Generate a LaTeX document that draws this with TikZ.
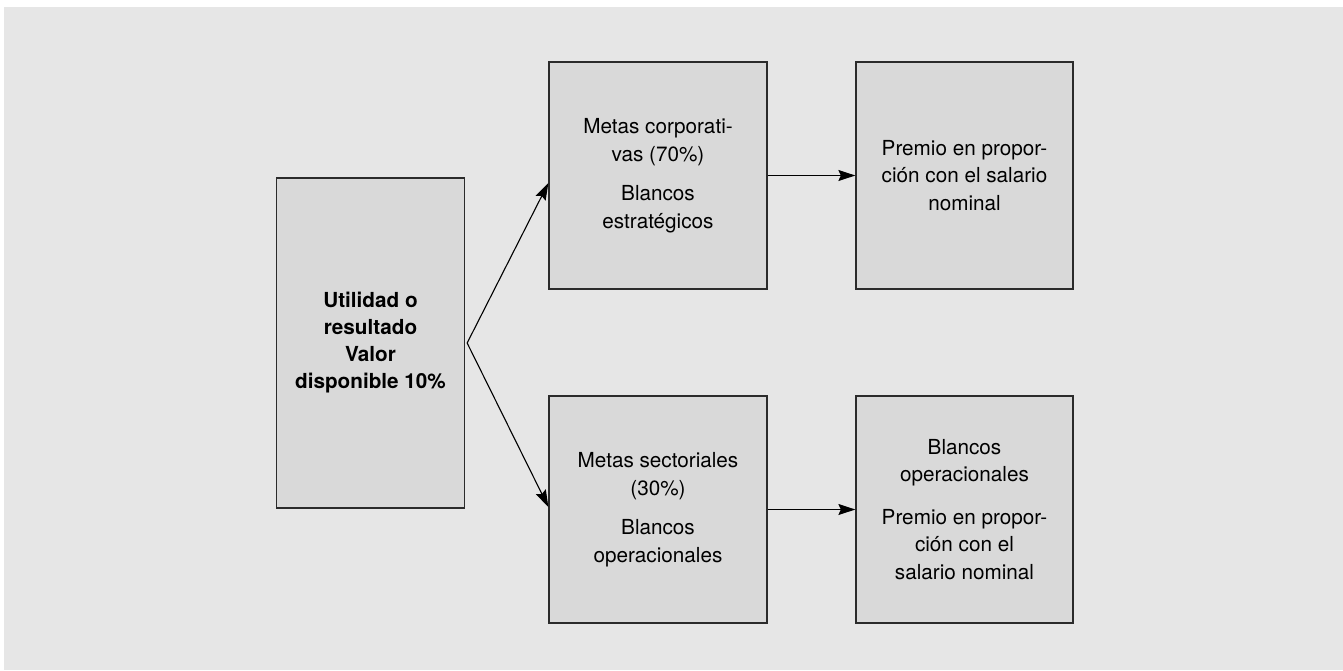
\documentclass[tikz,border=0pt]{standalone}
\usepackage{fontspec}
\setmainfont{TeX Gyre Heros}
\usetikzlibrary{arrows.meta,calc}
\definecolor{bgray}{HTML}{E6E6E6}
\definecolor{boxgray}{HTML}{D9D9D9}
\definecolor{edge}{HTML}{2B2B2B}
\tikzset{
  box/.style={draw=edge, line width=1.3pt, fill=boxgray, align=center, inner sep=0pt,
    font=\fontsize{20.7}{27.5}\selectfont, text=black},
  conn/.style={line width=1.1pt, -{Stealth[length=17pt,width=11pt,inset=2.5pt]}}
}
\begin{document}
\begin{tikzpicture}[x=1pt,y=-1pt]
\useasboundingbox (0,0) rectangle (1343,670);
\fill[white] (0,0) rectangle (1343,670);
\fill[bgray] (4,7) rectangle (1343,670);
\node[box, minimum width=188pt, minimum height=330pt, font=\fontsize{20.7}{27}\selectfont\bfseries] (L) at (370.5,343)
  {Utilidad o\\resultado\\Valor\\disponible 10\%};
\node[box, minimum width=218pt, minimum height=227pt] (TM) at (658,175.5)
  {Metas corporati-\\vas (70\%)\\[12pt]Blancos\\estratégicos};
\node[box, minimum width=217pt, minimum height=227pt] (TR) at (964.5,175.5)
  {Premio en propor-\\ción con el salario\\nominal};
\node[box, minimum width=218pt, minimum height=227pt] (BM) at (658,509.5)
  {Metas sectoriales\\(30\%)\\[12pt]Blancos\\operacionales};
\node[box, minimum width=217pt, minimum height=227pt] (BR) at (964.5,509.5)
  {Blancos\\operacionales\\[15pt]Premio en propor-\\ción con el\\salario nominal};
\coordinate (fork) at ($(L.east)+(2,0)$);
\draw[conn] (fork) -- ($(TM.north west)!0.533!(TM.south west)$);
\draw[conn] (fork) -- ($(BM.north west)!0.489!(BM.south west)$);
\draw[conn] (TM.east) -- (TR.west);
\draw[conn] (BM.east) -- (BR.west);
\end{tikzpicture}
\end{document}
